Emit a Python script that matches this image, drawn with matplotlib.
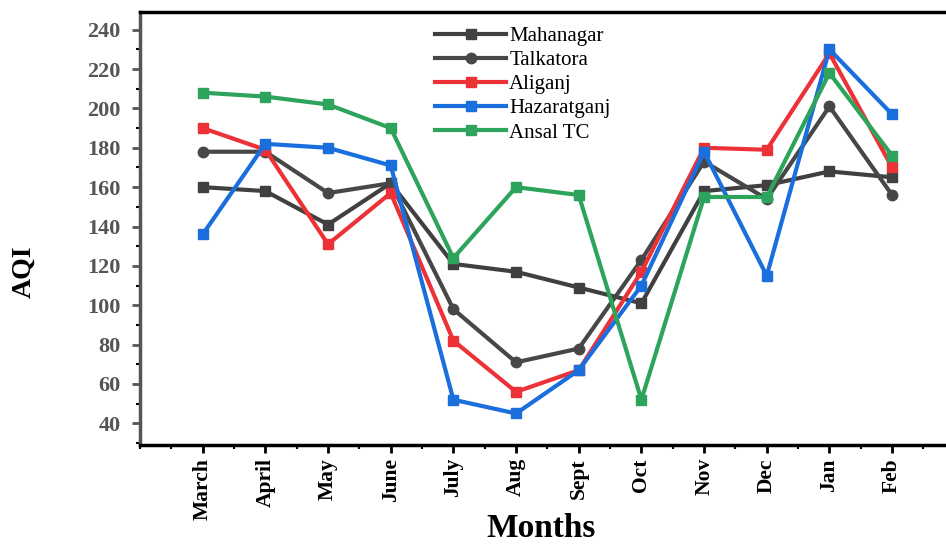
import matplotlib.pyplot as plt
from matplotlib.ticker import MultipleLocator

# Monthly AQI readings per site
months = ["March", "April", "May", "June", "July", "Aug", "Sept", "Oct", "Nov", "Dec", "Jan", "Feb"]
mahanagar = [160, 158, 141, 162, 121, 117, 109, 101, 158, 161, 168, 165]
talkatora = [178, 178, 157, 162, 98, 71, 78, 123, 173, 154, 201, 156]
aliganj = [190, 179, 131, 157, 82, 56, 67, 117, 180, 179, 228, 170]
hazaratganj = [136, 182, 180, 171, 52, 45, 67, 110, 178, 115, 230, 197]
ansal_tc = [208, 206, 202, 190, 124, 160, 156, 52, 155, 155, 218, 176]

plt.rcParams["font.family"] = ["Liberation Serif", "DejaVu Serif"]

fig = plt.figure(figsize=(9.46, 5.44), dpi=100)
ax = fig.add_axes([0.148, 0.182, 0.852, 0.796])

x = list(range(1, len(months) + 1))
ax.plot(x, mahanagar, color="#404040", lw=3, marker="s", ms=7.5, label="Mahanagar")
ax.plot(x, talkatora, color="#474747", lw=3, marker="o", ms=7.5, label="Talkatora")
ax.plot(x, aliganj, color="#ec3237", lw=3, marker="s", ms=7.5, label="Aliganj")
ax.plot(x, hazaratganj, color="#1a6fdc", lw=3, marker="s", ms=7.5, label="Hazaratganj")
ax.plot(x, ansal_tc, color="#2ea35c", lw=3, marker="s", ms=7.5, label="Ansal TC")

ax.set_xlim(0, 12.86)
ax.set_ylim(29, 249)
ax.set_xticks(x)
ax.set_xticklabels(months, rotation=90, fontsize=15.5, fontweight="bold")
ax.xaxis.set_minor_locator(MultipleLocator(0.5))
ax.yaxis.set_minor_locator(MultipleLocator(10))
ax.set_yticks(range(40, 241, 20))
for lab in ax.get_yticklabels():
    lab.set_fontsize(16)
    lab.set_fontweight("bold")
    lab.set_color("#555555")

ax.tick_params(axis="both", which="major", direction="out", length=6, width=2)
ax.tick_params(axis="both", which="minor", direction="out", length=3, width=1.5)
ax.tick_params(axis="y", colors="#555555", labelcolor="#555555", pad=8)

for side in ["left", "top", "bottom"]:
    ax.spines[side].set_linewidth(2.5)
ax.spines["left"].set_color("#555555")
ax.spines["right"].set_visible(False)

ax.set_xlabel("Months", fontsize=24, fontweight="bold")
ax.xaxis.set_label_coords(0.497, -0.158)
ax.set_ylabel("AQI", fontsize=20, fontweight="bold")
ax.yaxis.set_label_coords(-0.128, 0.40)

ax.legend(loc="upper left", bbox_to_anchor=(0.343, 1.01), frameon=False,
          fontsize=15, handlelength=3.4, handletextpad=0.15, labelspacing=0.22)

fig.savefig("out.png", dpi=100)
